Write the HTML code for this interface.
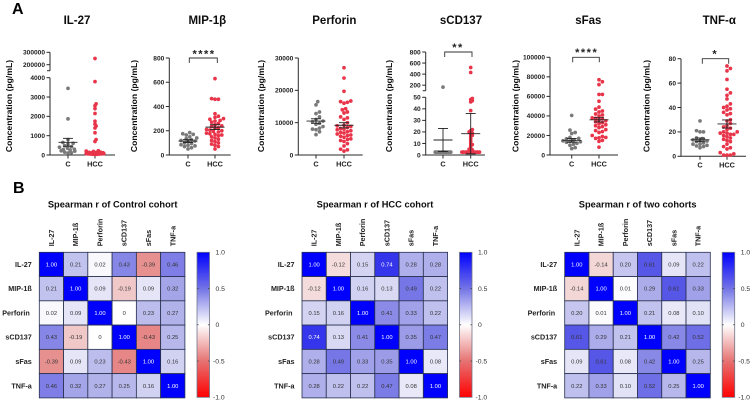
<!DOCTYPE html>
<html lang="en">
<head>
<meta charset="utf-8">
<title>Cytokine concentrations and Spearman correlation heatmaps</title>
<style>
html,body{margin:0;padding:0;background:#fff;width:753px;height:402px;overflow:hidden}
svg{display:block;font-family:"Liberation Sans",sans-serif}
.panel-title{font-size:11.5px;font-weight:bold;fill:#111;text-anchor:middle}
.heat-title{font-size:9.3px;font-weight:bold;fill:#111;text-anchor:middle}
.section{font-size:16px;font-weight:bold;fill:#000}
</style>
</head>
<body>
<svg id="figure" width="753" height="402" viewBox="0 0 753 402" xmlns="http://www.w3.org/2000/svg">
  <defs><filter id="soft" x="0" y="0" width="100%" height="100%"><feGaussianBlur stdDeviation="0.25"/></filter></defs>
  <g id="root" filter="url(#soft)">
    <text class="section" x="12" y="14">A</text>
    <text class="section" x="13" y="193">B</text>
    <text class="panel-title" x="77" y="24">IL-27</text>
    <text class="panel-title" x="207.3" y="24">MIP-1β</text>
    <text class="panel-title" x="334.3" y="24">Perforin</text>
    <text class="panel-title" x="461" y="24">sCD137</text>
    <text class="panel-title" x="588.3" y="24">sFas</text>
    <text class="panel-title" x="719.3" y="24">TNF-α</text>
    <text class="heat-title" x="112.7" y="207.5">Spearman r of Control cohort</text>
    <text class="heat-title" x="375" y="207.5">Spearman r of HCC cohort</text>
    <text class="heat-title" x="637.7" y="207.5">Spearman r of two cohorts</text>
  </g>
</svg>
<script>
// ---------- Data: scatter groups ----------
const categories = ['C', 'HCC'];
const yAxisTitle = 'Concentration (pg/mL)';

const il27Control = [3450, 1870, 800, 650, 600, 550, 480, 430, 400, 350, 300, 280, 250, 220, 200, 150, 120, 100];
const il27Hcc = [250000, 3800, 2650, 2550, 2400, 2150, 1750, 1600, 1500, 1400, 1150, 800, 700, 220, 200, 180, 150, 140, 130, 120, 110, 100, 100, 90, 90, 80, 80, 70, 70, 60, 60, 50, 50, 40, 40, 30];
const il27Means = [657, null];
const il27Errors = [205, null];
const il27Ticks = [0, 1000, 2000, 3000, 4000, 200000, 300000];

const mipControl = [185, 175, 170, 165, 150, 140, 135, 125, 120, 115, 110, 100, 95, 85, 80, 75, 70, 60, 50];
const mipHcc = [630, 465, 460, 460, 340, 320, 310, 300, 295, 285, 280, 270, 260, 250, 240, 235, 225, 220, 210, 205, 200, 195, 190, 180, 175, 170, 165, 160, 150, 140, 130, 120, 110, 100, 90, 80, 70, 50];
const mipMeans = [115, 230];
const mipErrors = [12, 20];
const mipTicks = [0, 200, 400, 600, 800];

const perforinControl = [16500, 15500, 13300, 12800, 11800, 11000, 10500, 10300, 9800, 9500, 8800, 8300, 8000, 7800, 7200, 6300];
const perforinHcc = [27000, 23800, 19700, 16700, 16500, 16300, 16000, 14300, 14000, 13300, 13000, 11800, 11500, 11000, 10000, 9200, 9000, 8800, 8500, 8200, 8000, 7800, 7500, 7200, 7000, 6800, 6500, 6200, 6000, 5800, 5500, 5000, 4800, 4500, 4200, 3500, 2800, 1800, 1600, 1200];
const perforinMeans = [10500, 9200];
const perforinErrors = [700, 800];
const perforinTicks = [0, 10000, 20000, 30000];

const scd137Control = [165, 2.5, 2.5, 2.5, 2.5, 2.5, 2.5, 2.5, 2.5, 2.5, 2.5, 2.5, 2.5, 2.5, 2.5, 2.5, 2.5];
const scd137Hcc = [520, 430, 49, 48, 47, 46, 38.5, 22, 21, 20, 19.5, 19, 18, 17, 16, 14, 12, 10, 9, 8, 6, 5, 4.5, 4, 2.5, 2.5, 2.5, 2.5, 2.5, 2.5, 2.5, 2.5, 2.5, 2.5, 2.5, 2.5, 2.5, 2.5, 2.5, 2.5];
const scd137Means = [13, 18.5];
const scd137Errors = [10, 17.5];
const scd137Ticks = [0, 10, 20, 30, 40, 50, 200, 400, 600, 800];

const sfasControl = [40500, 25500, 23000, 22000, 18000, 17000, 16500, 15500, 15000, 14500, 14000, 13500, 13000, 12000, 11000, 10000, 7500, 6500];
const sfasHcc = [77000, 75000, 72000, 62000, 62000, 55000, 49000, 47000, 45000, 44000, 42000, 41000, 40000, 38000, 37500, 37000, 36000, 35000, 34000, 33000, 32000, 31000, 30000, 29000, 28000, 26000, 25000, 24000, 23000, 20000, 19000, 18000, 17500, 17000, 15000, 14000, 8000];
const sfasMeans = [15000, 36000];
const sfasErrors = [1900, 2200];
const sfasTicks = [0, 20000, 40000, 60000, 80000, 100000];

const tnfControl = [29, 21, 20, 20, 15, 14.5, 14, 13.5, 13, 12.5, 12, 11, 10, 10, 9, 8.5, 8, 7];
const tnfHcc = [74, 72, 70, 63, 55, 52, 50, 47, 43, 41, 40, 39, 38, 36, 35, 34, 30, 29, 27, 25, 24, 23, 22, 20, 20, 19, 19, 18, 18, 17, 16, 15, 14, 13, 12, 10, 8, 7, 6, 3, 2, 1, 1, 1];
const tnfMeans = [13.5, 26.5];
const tnfErrors = [1.5, 3.3];
const tnfTicks = [0, 20, 40, 60, 80];

// ---------- Data: correlation heatmaps ----------
const heatLabels = ['IL-27', 'MIP-1ß', 'Perforin', 'sCD137', 'sFas', 'TNF-a'];
const colorbarTicks = [1, 0.5, 0, -0.5, -1];
const controlMatrix = [
  [1, 0.21, 0.02, 0.43, -0.39, 0.46],
  [0.21, 1, 0.09, -0.19, 0.09, 0.32],
  [0.02, 0.09, 1, 0, 0.23, 0.27],
  [0.43, -0.19, 0, 1, -0.43, 0.25],
  [-0.39, 0.09, 0.23, -0.43, 1, 0.16],
  [0.46, 0.32, 0.27, 0.25, 0.16, 1]
];
const hccMatrix = [
  [1, -0.12, 0.15, 0.74, 0.28, 0.28],
  [-0.12, 1, 0.16, 0.13, 0.49, 0.22],
  [0.15, 0.16, 1, 0.41, 0.33, 0.22],
  [0.74, 0.13, 0.41, 1, 0.35, 0.47],
  [0.28, 0.49, 0.33, 0.35, 1, 0.08],
  [0.28, 0.22, 0.22, 0.47, 0.08, 1]
];
const twoCohortMatrix = [
  [1, -0.14, 0.20, 0.61, 0.09, 0.22],
  [-0.14, 1, 0.01, 0.29, 0.61, 0.33],
  [0.20, 0.01, 1, 0.21, 0.08, 0.10],
  [0.61, 0.29, 0.21, 1, 0.42, 0.52],
  [0.09, 0.61, 0.08, 0.42, 1, 0.25],
  [0.22, 0.33, 0.10, 0.52, 0.25, 1]
];

// ---------- Layout (separate from data) ----------
const scatterPanels = [
  { key: 'il-27', control: il27Control, hcc: il27Hcc, means: il27Means, errors: il27Errors, ticks: il27Ticks,
    axisX: 50, xEnd: 115, cx: [68, 95], labelX: 9, spacing: [3.4, 2.2], maxW: [9, 9],
    segments: [{ d: [0, 4000], r: [155, 77.7] }, { d: [151600, 300000], r: [70.7, 52.3] }] },
  { key: 'mip-1b', control: mipControl, hcc: mipHcc, means: mipMeans, errors: mipErrors, ticks: mipTicks,
    axisX: 169.3, xEnd: 230.7, cx: [188, 215], labelX: 134, spacing: [3.5, 3.4], maxW: [10, 10.5],
    segments: [{ d: [0, 800], r: [155, 58] }],
    bracket: { x0: 189.3, x1: 217.3, top: 58, drop: 5, stars: '****', starX: 204, starY: 52 } },
  { key: 'perforin', control: perforinControl, hcc: perforinHcc, means: perforinMeans, errors: perforinErrors, ticks: perforinTicks,
    axisX: 298.3, xEnd: 362.7, cx: [316, 344], labelX: 261, spacing: [3.5, 3.4], maxW: [10, 10.5],
    segments: [{ d: [0, 30000], r: [155, 58] }] },
  { key: 'scd137', control: scd137Control, hcc: scd137Hcc, means: scd137Means, errors: scd137Errors, ticks: scd137Ticks,
    axisX: 425.7, xEnd: 485, cx: [443, 470.7], labelX: 389, spacing: [1.3, 1.6], maxW: [9, 9],
    segments: [{ d: [0, 50], r: [155, 97.3] }, { d: [100, 800], r: [90.7, 52] }],
    bracket: { x0: 444.7, x1: 472, top: 52, drop: 5, stars: '**', starX: 458, starY: 45.7 } },
  { key: 'sfas', control: sfasControl, hcc: sfasHcc, means: sfasMeans, errors: sfasErrors, ticks: sfasTicks,
    axisX: 550, xEnd: 618, cx: [571.7, 599], labelX: 515.7, spacing: [3.5, 3.4], maxW: [10, 10.5],
    segments: [{ d: [0, 100000], r: [155, 57.3] }],
    bracket: { x0: 572.7, x1: 599.3, top: 57.3, drop: 5, stars: '****', starX: 586.7, starY: 50.7 } },
  { key: 'tnf-a', control: tnfControl, hcc: tnfHcc, means: tnfMeans, errors: tnfErrors, ticks: tnfTicks,
    axisX: 681, xEnd: 746, cx: [700, 727], labelX: 646.7, spacing: [3.5, 3.4], maxW: [10, 10.5],
    segments: [{ d: [0, 80], r: [156.3, 58.7] }],
    bracket: { x0: 702.3, x1: 728.7, top: 58.7, drop: 5, stars: '*', starX: 715.3, starY: 52 } }
];
const heatPanels = [
  { key: 'control', matrix: controlMatrix, gridX: 39.3, barX: 197 },
  { key: 'hcc', matrix: hccMatrix, gridX: 302, barX: 459.5 },
  { key: 'two-cohorts', matrix: twoCohortMatrix, gridX: 564.7, barX: 722.2 }
];
const GRID_Y = 252.3, GRID_SIZE = 145.6, BAR_W = 12.5;

// ---------- Helpers ----------
const NS = 'http://www.w3.org/2000/svg';
const root = document.getElementById('root');
function make(tag, attrs, parent, text) {
  const node = document.createElementNS(NS, tag);
  for (const k in attrs) node.setAttribute(k, attrs[k]);
  if (text !== undefined) node.textContent = text;
  (parent || root).appendChild(node);
  return node;
}
function yScale(segments) {
  return function (v) {
    let seg = segments[0];
    for (const s of segments) if (v >= s.d[0]) seg = s;
    const t = (v - seg.d[0]) / (seg.d[1] - seg.d[0]);
    return seg.r[0] + t * (seg.r[1] - seg.r[0]);
  };
}
// Deterministic beeswarm: nearest free horizontal offset, wrapping inside maxW when crowded.
function swarm(values, y, spacing, maxW) {
  const placed = [];
  const sorted = values.slice().sort(function (a, b) { return a - b; });
  let crowded = 0;
  for (const v of sorted) {
    const py = y(v);
    let found = null;
    for (let i = 0; found === null; i++) {
      const mag = Math.ceil(i / 2) * (spacing / 2);
      if (mag > maxW) break;
      const off = i % 2 ? mag : -mag;
      const clash = placed.some(function (p) { return Math.hypot(p.off - off, p.y - py) < spacing; });
      if (!clash) found = off;
    }
    if (found === null) {
      crowded += 1;
      found = ((crowded * 0.618) % 1) * 2 * maxW - maxW;
    }
    placed.push({ off: found, y: py });
  }
  return placed;
}
function heatColor(v) {
  const a = Math.min(1, Math.abs(v));
  const c = Math.round(255 * Math.pow(1 - a, 1.15));
  const m = Math.round(255 - 100 * a * (1 - a));
  return v >= 0 ? 'rgb(' + c + ',' + c + ',' + m + ')' : 'rgb(' + m + ',' + c + ',' + c + ')';
}

// ---------- Scatter panels ----------
const AXIS = '#2a2a2a';
const groupColors = ['#7a7a7a', '#e8344a'];
scatterPanels.forEach(function (p) {
  const g = make('g', {});
  
  
  const y = yScale(p.segments);
  const baseY = p.segments[0].r[0];

  const label = make('text', { transform: 'translate(' + (p.labelX + 3) + ',106) rotate(-90)', 'text-anchor': 'middle', 'font-size': '8.6', 'font-weight': 'bold', fill: '#111' }, g, yAxisTitle);
  
  

  p.segments.forEach(function (s, i) {
    const axis = make('line', { x1: p.axisX, x2: p.axisX, y1: s.r[0], y2: s.r[1], stroke: AXIS, 'stroke-width': 1 }, g);
    
    
    if (i > 0) {
      const brk = make('line', { x1: p.axisX - 3, x2: p.axisX, y1: s.r[0], y2: s.r[0], stroke: AXIS, 'stroke-width': 1 }, g);
      
      
    }
  });
  const xAxis = make('line', { x1: p.axisX - 0.5, x2: p.xEnd, y1: baseY, y2: baseY, stroke: AXIS, 'stroke-width': 1 }, g);
  
  

  p.ticks.forEach(function (t) {
    const ty = y(t);
    const tick = make('line', { x1: p.axisX - 3.5, x2: p.axisX, y1: ty, y2: ty, stroke: AXIS, 'stroke-width': 1 }, g);
    
    
    const tl = make('text', { x: p.axisX - 5, y: ty + 2.3, 'text-anchor': 'end', 'font-size': '6.6', 'font-weight': 'bold', fill: '#222' }, g, String(t));
    
    
  });

  categories.forEach(function (cat, i) {
    const cx = p.cx[i];
    const xt = make('line', { x1: cx, x2: cx, y1: baseY, y2: baseY + 3.5, stroke: AXIS, 'stroke-width': 1 }, g);
    
    
    const xl = make('text', { x: cx, y: baseY + 11.3, 'text-anchor': 'middle', 'font-size': '7.3', 'font-weight': 'bold', fill: '#222' }, g, cat);
    
    

    const values = i === 0 ? p.control : p.hcc;
    swarm(values, y, p.spacing[i], p.maxW[i]).forEach(function (pt) {
      const dot = make('circle', { cx: cx + pt.off, cy: pt.y, r: 1.85, fill: groupColors[i] }, g);
      
      
    });

    if (p.means[i] !== null) {
      const m = y(p.means[i]);
      const up = y(p.means[i] + p.errors[i]);
      const dn = y(p.means[i] - p.errors[i]);
      const parts = [[cx - 9.5, m, cx + 9.5, m], [cx, up, cx, dn], [cx - 5, up, cx + 5, up], [cx - 5, dn, cx + 5, dn]];
      parts.forEach(function (q) {
        const seg = make('line', { x1: q[0], y1: q[1], x2: q[2], y2: q[3], stroke: '#222', 'stroke-width': 0.9 }, g);
        
        
      });
    }
  });

  if (p.bracket) {
    const b = p.bracket;
    const path = make('path', { d: 'M' + b.x0 + ' ' + (b.top + b.drop) + 'V' + b.top + 'H' + b.x1 + 'V' + (b.top + b.drop), fill: 'none', stroke: '#333', 'stroke-width': 0.9 }, g);
    
    
    const s = make('text', { x: b.starX, y: b.starY + 5.5, 'text-anchor': 'middle', 'font-size': '11', 'font-weight': 'bold', 'letter-spacing': '1.5', fill: '#222' }, g, b.stars);
    
    
  }
});

// ---------- Heatmaps ----------
const gridStroke = '#27304f';
heatPanels.forEach(function (h, hi) {
  const g = make('g', {});
  
  
  const n = heatLabels.length;
  const size = GRID_SIZE / n;

  h.matrix.forEach(function (row, r) {
    row.forEach(function (v, c) {
      const cell = make('rect', { x: h.gridX + c * size, y: GRID_Y + r * size, width: size, height: size, fill: heatColor(v), stroke: gridStroke, 'stroke-width': 0.8 }, g);
      
      
      const label = v === 0 ? '0' : v.toFixed(2);
      const t = make('text', { x: h.gridX + (c + 0.5) * size, y: GRID_Y + (r + 0.5) * size + 2, 'text-anchor': 'middle', 'font-size': '5.8', fill: v >= 0.7 ? '#fff' : '#333' }, g, label);
      
      
    });
  });

  heatLabels.forEach(function (name, i) {
    const isLong = name === 'Perforin';
    const rl = make('text', { x: h.gridX - 7.5 - (isLong ? 2 : 0), y: GRID_Y + (i + 0.5) * size + 2.5, 'text-anchor': 'end', 'font-size': '7.2', 'font-weight': 'bold', fill: '#222' }, g, name);
    
    
    const cxx = h.gridX + (i + 0.5) * size;
    const cl = make('text', { transform: 'translate(' + (cxx + 2.5) + ',' + (GRID_Y - 6) + ') rotate(-90)', 'text-anchor': 'start', 'font-size': '7.2', 'font-weight': 'bold', fill: '#222' }, g, name);
    
    
  });

  const defs = make('linearGradient', { id: 'bar-grad-' + hi, x1: 0, y1: 0, x2: 0, y2: 1 }, g);
  colorbarTicks.forEach(function (t, i) {
    make('stop', { offset: (i / (colorbarTicks.length - 1)), 'stop-color': heatColor(t) }, defs);
  });
  const bar = make('rect', { x: h.barX, y: GRID_Y, width: BAR_W, height: GRID_SIZE - 0.6, fill: 'url(#bar-grad-' + hi + ')', stroke: '#6f7488', 'stroke-width': 0.8 }, g);
  
  
  colorbarTicks.forEach(function (t) {
    const ty = GRID_Y + (1 - t) / 2 * (GRID_SIZE - 0.6);
    if (Math.abs(t) < 1) {
      [[h.barX, h.barX + 1.6], [h.barX + BAR_W - 1.6, h.barX + BAR_W]].forEach(function (q) {
        const tk = make('line', { x1: q[0], x2: q[1], y1: ty, y2: ty, stroke: '#444', 'stroke-width': 0.8 }, g);
        
        
      });
    }
    const label = t === 0 ? '0' : t.toFixed(1);
    const tl = make('text', { x: h.barX + BAR_W + (t < 0 ? 3.5 : 6), y: ty + 2.4, 'font-size': '6.8', fill: '#333' }, g, label);
    
    
  });
});
</script>
</body>
</html>
